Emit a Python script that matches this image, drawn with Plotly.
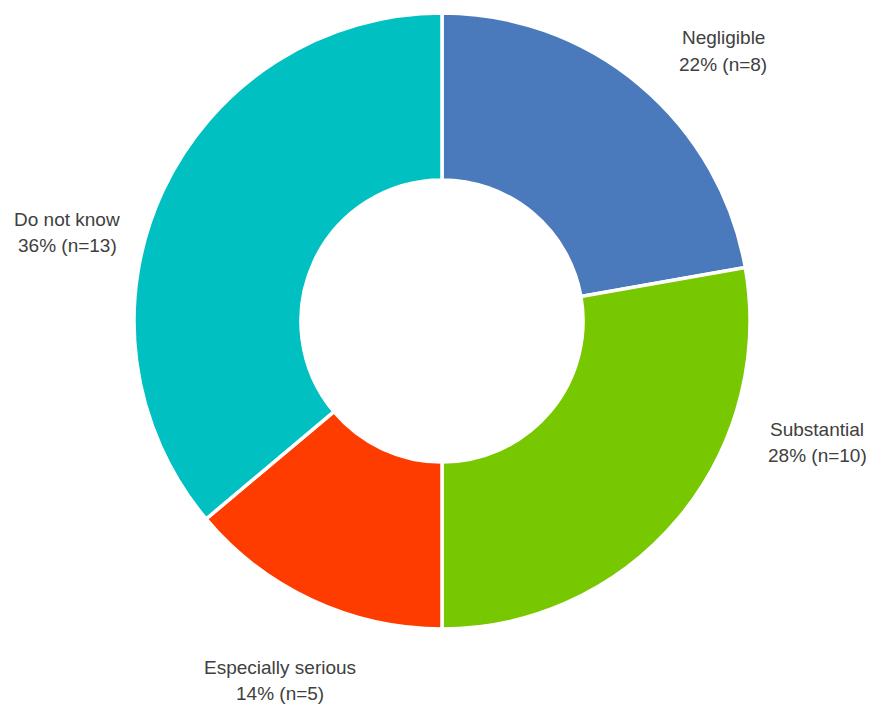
import plotly.graph_objects as go

# Survey responses: perceived severity
categories = ["Negligible", "Substantial", "Especially serious", "Do not know"]
counts = [8, 10, 5, 13]
colors = ["#4A7ABC", "#77C800", "#FF3C00", "#00C0C2"]

W, H = 872, 706
total = sum(counts)

# Caption placement (pixels from top-left): x centre, first-line centre
label_px = [(723, 38), (817, 429), (280, 667), (67, 219)]
LINE_PITCH = 26.5

fig = go.Figure(
    go.Pie(
        labels=categories,
        values=counts,
        sort=False,
        direction="clockwise",
        rotation=0,
        hole=0.458,
        marker=dict(colors=colors, line=dict(color="white", width=3.5)),
        textinfo="none",
        hoverinfo="label+value+percent",
        domain=dict(x=[134 / W, 750 / W], y=[77 / H, 693 / H]),
        showlegend=False,
    )
)

font = dict(family="Liberation Sans, Arial, sans-serif", size=19, color="#404040")
annotations = []
for cat, n, (px, py) in zip(categories, counts, label_px):
    pct = round(100 * n / total)
    for i, line in enumerate([cat, f"{pct}% (n={n})"]):
        annotations.append(
            dict(
                x=px / W,
                y=1 - (py + i * LINE_PITCH) / H,
                xref="paper",
                yref="paper",
                xanchor="center",
                yanchor="middle",
                text=line,
                showarrow=False,
                font=font,
            )
        )

fig.update_layout(
    width=W,
    height=H,
    margin=dict(l=0, r=0, t=0, b=0),
    paper_bgcolor="white",
    plot_bgcolor="white",
    annotations=annotations,
)

fig.write_html("out.html")
